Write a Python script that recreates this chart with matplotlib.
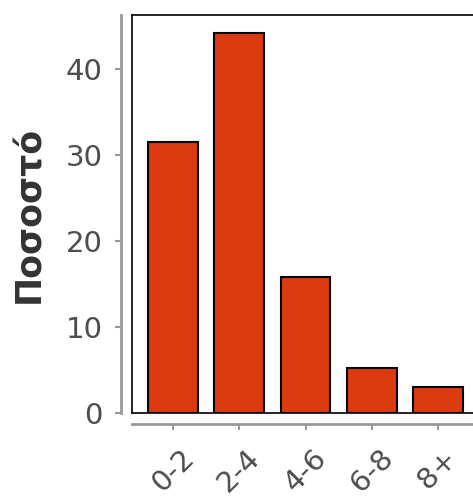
import matplotlib.pyplot as plt

categories = ["0-2", "2-4", "4-6", "6-8", "8+"]
values = [31.5, 44.2, 15.8, 5.2, 3.0]

W, H = 473, 497
fig = plt.figure(figsize=(W / 100, H / 100), dpi=100)

# axes box in pixels (right edge runs past the image, like the reference)
left, right, top, bottom = 132, 479, 15, 413
rect = [left / W, (H - bottom) / H, (right - left) / W, (bottom - top) / H]

ax = fig.add_axes(rect)
x = range(len(categories))
ax.bar(x, values, width=0.75, color="#dc3a0f", edgecolor="black", linewidth=1.5, zorder=3)
ax.set_xlim(-0.62, len(categories) - 1 + 0.62)
ax.set_ylim(0, 46.3)
for s in ax.spines.values():
    s.set_color("black")
    s.set_linewidth(1.2)
ax.set_xticks([])
ax.set_yticks([])

# grey offset axis lines with ticks
ax2 = fig.add_axes(rect, frameon=True)
ax2.patch.set_alpha(0)
ax2.set_xlim(ax.get_xlim())
ax2.set_ylim(ax.get_ylim())
for side in ["top", "right"]:
    ax2.spines[side].set_visible(False)
ax2.spines["left"].set_position(("outward", 8))
ax2.spines["bottom"].set_position(("outward", 8))
for side in ["left", "bottom"]:
    ax2.spines[side].set_color("#999999")
    ax2.spines[side].set_linewidth(2)
ax2.set_xticks(list(x))
ax2.set_xticklabels(categories, rotation=45, ha="center")
ax2.set_yticks([0, 10, 20, 30, 40])
ax2.tick_params(axis="both", colors="#999999", labelcolor="#4d4d4d", labelsize=21,
                length=4, width=1.5)
ax2.tick_params(axis="x", pad=10)
ax2.tick_params(axis="y", pad=9)
ax2.set_ylabel("Ποσοστό", fontsize=25, fontweight="bold", color="#333333", labelpad=14)

fig.savefig("out.png", dpi=100)
